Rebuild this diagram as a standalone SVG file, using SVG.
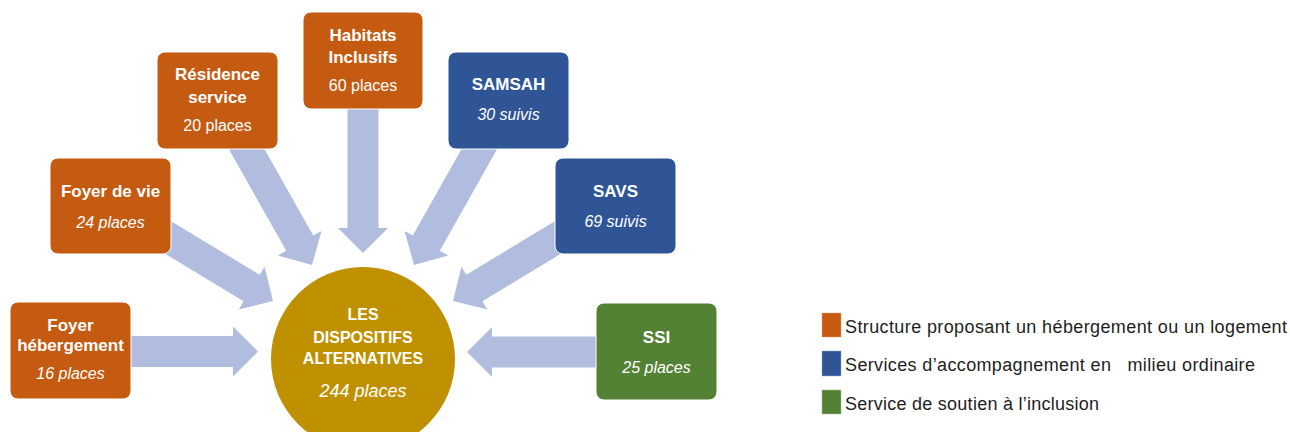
<svg xmlns="http://www.w3.org/2000/svg" width="1290" height="432" viewBox="0 0 1290 432">
<defs>
<path id="arr" d="M0,0 L-25,-25 L-25,-15.5 L-185,-15.5 L-185,15.5 L-25,15.5 L-25,25 Z"/>
</defs>
<style>
text{font-family:"Liberation Sans",Arial,sans-serif;fill:#fff;text-anchor:middle}
.t{font-weight:bold;font-size:17px}
.s{font-size:16px}
.i{font-size:16px;font-style:italic}
.box{stroke:#fff;stroke-width:1}
.or{fill:#C55A11}
.bl{fill:#2F5597}
.gr{fill:#548235}
.arrow{fill:#B0BDDF}
.lg{fill:#1e1e1e;text-anchor:start;font-size:18px;white-space:pre}
</style>
<rect width="1290" height="432" fill="#fff"/>
<g id="connectors" class="arrow">
<use href="#arr" transform="translate(258,351.5)"/>
<use href="#arr" transform="translate(467,352) rotate(180)"/>
<use href="#arr" transform="translate(363,253) rotate(90)"/>
<use href="#arr" transform="translate(312,265) rotate(60.6)"/>
<use href="#arr" transform="translate(414,265) rotate(119.4)"/>
<use href="#arr" transform="translate(273,301) rotate(31.2)"/>
<use href="#arr" transform="translate(453,301) rotate(148.8)"/>
</g>
<g id="center">
<circle cx="363" cy="359" r="92" fill="#BF9000"/>
<text class="t" x="363" y="320" style="font-size:16px">LES</text>
<text class="t" x="363" y="342.5" style="font-size:16px">DISPOSITIFS</text>
<text class="t" x="363" y="364" style="font-size:16px">ALTERNATIVES</text>
<text class="i" x="363" y="396.5" style="font-size:18px">244 places</text>
</g>
<g id="habitats">
<rect class="box or" x="303" y="12" width="120" height="97" rx="8"/>
<text class="t" x="363" y="40.5">Habitats</text>
<text class="t" x="363" y="63">Inclusifs</text>
<text class="s" x="363" y="91">60 places</text>
</g>
<g id="residence">
<rect class="box or" x="157" y="52" width="121" height="97" rx="8"/>
<text class="t" x="217.5" y="80">Résidence</text>
<text class="t" x="217.5" y="103">service</text>
<text class="s" x="217.5" y="131">20 places</text>
</g>
<g id="foyer-vie">
<rect class="box or" x="50" y="158" width="121" height="96" rx="8"/>
<text class="t" x="110.5" y="197">Foyer de vie</text>
<text class="i" x="110.5" y="228">24 places</text>
</g>
<g id="foyer-hebergement">
<rect class="box or" x="10" y="302" width="121" height="97" rx="8"/>
<text class="t" x="70.5" y="331">Foyer</text>
<text class="t" x="70.5" y="351">hébergement</text>
<text class="i" x="70.5" y="379">16 places</text>
</g>
<g id="samsah">
<rect class="box bl" x="448" y="52" width="121" height="97" rx="8"/>
<text class="t" x="508.5" y="90">SAMSAH</text>
<text class="i" x="508.5" y="120">30 suivis</text>
</g>
<g id="savs">
<rect class="box bl" x="555" y="158" width="121" height="96" rx="8"/>
<text class="t" x="615.5" y="197">SAVS</text>
<text class="i" x="615.5" y="227">69 suivis</text>
</g>
<g id="ssi">
<rect class="box gr" x="596" y="303" width="121" height="97" rx="8"/>
<text class="t" x="656.5" y="343">SSI</text>
<text class="i" x="656.5" y="373">25 places</text>
</g>
<g id="legend">
<rect class="or" x="822" y="313" width="19" height="24" stroke="#e8a070" stroke-width="0.5"/>
<rect class="bl" x="822" y="351" width="19" height="25" stroke="#8fa6d0" stroke-width="0.5"/>
<rect class="gr" x="822" y="390" width="19" height="24" stroke="#9cc080" stroke-width="0.5"/>
<text class="lg" x="845" y="333" textLength="442">Structure proposant un hébergement ou un logement</text>
<text class="lg" x="845" y="371" textLength="410">Services d’accompagnement en   milieu ordinaire</text>
<text class="lg" x="845" y="410" textLength="254">Service de soutien à l’inclusion</text>
</g>
</svg>
